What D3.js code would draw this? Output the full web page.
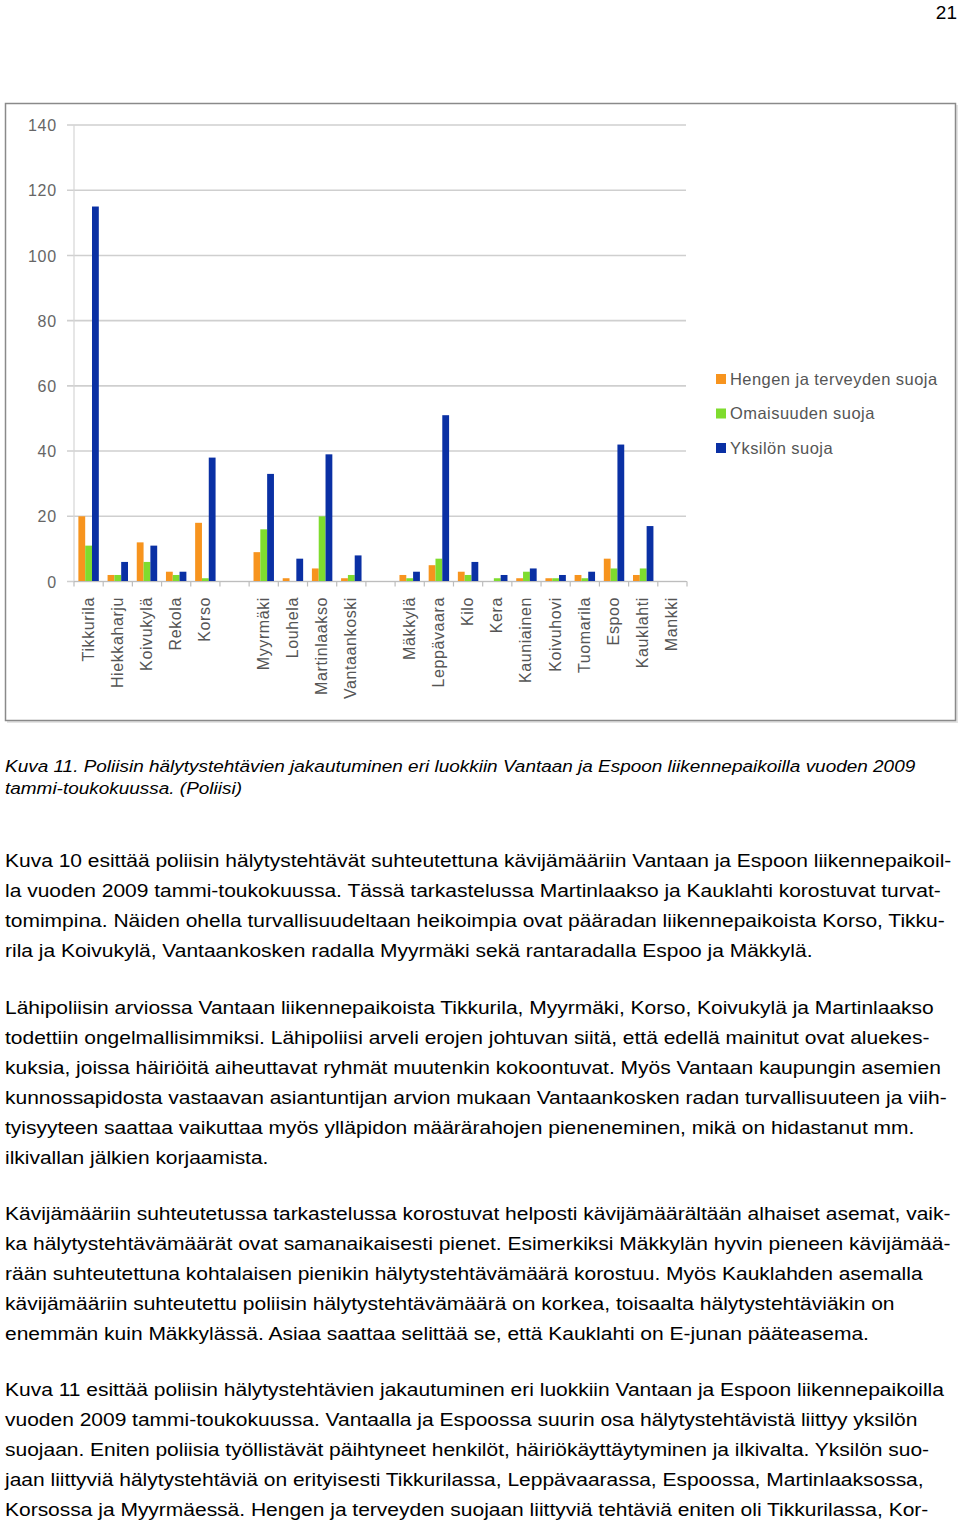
<!DOCTYPE html>
<html><head><meta charset="utf-8">
<script src="https://cdn.jsdelivr.net/npm/d3@7/dist/d3.min.js"></script>
<style>
html,body{margin:0;padding:0;background:#fff;}
svg{display:block;}
</style></head>
<body>
<svg id="page" width="960" height="1525"></svg>
<script>
// ---- data ----
const categories = ["Tikkurila","Hiekkaharju","Koivukylä","Rekola","Korso","","Myyrmäki","Louhela","Martinlaakso","Vantaankoski"," ","Mäkkylä","Leppävaara","Kilo","Kera","Kauniainen","Koivuhovi","Tuomarila","Espoo","Kauklahti","Mankki"];
const seriesNames = ["Hengen ja terveyden suoja","Omaisuuden suoja","Yksilön suoja"];
const hengen     = [20, 2, 12, 3, 18, 0, 9, 1, 4, 1, 0, 2, 5, 3, 0, 1, 1, 2, 7, 2, 0];
const omaisuuden = [11, 2, 6, 2, 1, 0, 16, 0, 20, 2, 0, 1, 7, 2, 1, 3, 1, 1, 4, 4, 0];
const yksilon    = [115, 6, 11, 3, 38, 0, 33, 7, 39, 8, 0, 3, 51, 6, 2, 4, 2, 3, 42, 17, 0];
const yTicks = [0, 20, 40, 60, 80, 100, 120, 140];
const colors = ["#f7941e", "#7fdc2e", "#0a30a4"];

const captionLines = [
 "Kuva 11. Poliisin hälytystehtävien jakautuminen eri luokkiin Vantaan ja Espoon liikennepaikoilla vuoden 2009",
 "tammi-toukokuussa. (Poliisi)"
];
const bodyParagraphs = [
 {y:860, lines:[
  "Kuva 10 esittää poliisin hälytystehtävät suhteutettuna kävijämääriin Vantaan ja Espoon liikennepaikoil-",
  "la vuoden 2009 tammi-toukokuussa. Tässä tarkastelussa Martinlaakso ja Kauklahti korostuvat turvat-",
  "tomimpina. Näiden ohella turvallisuudeltaan heikoimpia ovat pääradan liikennepaikoista Korso, Tikku-",
  "rila ja Koivukylä, Vantaankosken radalla Myyrmäki sekä rantaradalla Espoo ja Mäkkylä."]},
 {y:1007, lines:[
  "Lähipoliisin arviossa Vantaan liikennepaikoista Tikkurila, Myyrmäki, Korso, Koivukylä ja Martinlaakso",
  "todettiin ongelmallisimmiksi. Lähipoliisi arveli erojen johtuvan siitä, että edellä mainitut ovat aluekes-",
  "kuksia, joissa häiriöitä aiheuttavat ryhmät muutenkin kokoontuvat. Myös Vantaan kaupungin asemien",
  "kunnossapidosta vastaavan asiantuntijan arvion mukaan Vantaankosken radan turvallisuuteen ja viih-",
  "tyisyyteen saattaa vaikuttaa myös ylläpidon määrärahojen pieneneminen, mikä on hidastanut mm.",
  "ilkivallan jälkien korjaamista."]},
 {y:1213, lines:[
  "Kävijämääriin suhteutetussa tarkastelussa korostuvat helposti kävijämäärältään alhaiset asemat, vaik-",
  "ka hälytystehtävämäärät ovat samanaikaisesti pienet. Esimerkiksi Mäkkylän hyvin pieneen kävijämää-",
  "rään suhteutettuna kohtalaisen pienikin hälytystehtävämäärä korostuu. Myös Kauklahden asemalla",
  "kävijämääriin suhteutettu poliisin hälytystehtävämäärä on korkea, toisaalta hälytystehtäviäkin on",
  "enemmän kuin Mäkkylässä. Asiaa saattaa selittää se, että Kauklahti on E-junan pääteasema."]},
 {y:1389, lines:[
  "Kuva 11 esittää poliisin hälytystehtävien jakautuminen eri luokkiin Vantaan ja Espoon liikennepaikoilla",
  "vuoden 2009 tammi-toukokuussa. Vantaalla ja Espoossa suurin osa hälytystehtävistä liittyy yksilön",
  "suojaan. Eniten poliisia työllistävät päihtyneet henkilöt, häiriökäyttäytyminen ja ilkivalta. Yksilön suo-",
  "jaan liittyviä hälytystehtäviä on erityisesti Tikkurilassa, Leppävaarassa, Espoossa, Martinlaaksossa,",
  "Korsossa ja Myyrmäessä. Hengen ja terveyden suojaan liittyviä tehtäviä eniten oli Tikkurilassa, Kor-"]}
];

// ---- drawing ----
const svg = d3.select("#page");
const txtFont = "'Liberation Sans', Arial, sans-serif";
const stretch = 1.135;

svg.append("text").attr("x", 957).attr("y", 19).attr("text-anchor","end")
  .attr("font-family", txtFont).attr("font-size", 19).attr("fill","#000").text("21");

// chart frame
svg.append("rect").attr("x", 7).attr("y", 105).attr("width", 951).attr("height", 618)
  .attr("fill","#e4e4e4");
svg.append("rect").attr("x", 5.5).attr("y", 103.5).attr("width", 950).attr("height", 617)
  .attr("fill","#fff").attr("stroke","#8a8a8a").attr("stroke-width", 1.5);

const chartFont = "'Liberation Sans', Arial, sans-serif";
const y = d3.scaleLinear().domain([0, 140]).range([581.5, 125]);
const x0 = d3.scaleBand().domain(categories).range([74, 687]).paddingInner(0.3).paddingOuter(0.15);
const x1 = d3.scaleBand().domain([0,1,2]).range([0, x0.bandwidth()]);

// gridlines
const g = svg.append("g");
g.selectAll("line.grid").data(yTicks).join("line")
  .attr("x1", 67).attr("x2", 686)
  .attr("y1", d => y(d)).attr("y2", d => y(d))
  .attr("stroke", "#cfcfcf").attr("stroke-width", 1.6);
g.append("line").attr("x1", 74).attr("x2", 74).attr("y1", y(140)).attr("y2", y(0))
  .attr("stroke", "#d6d6d6").attr("stroke-width", 1.2);

// y tick labels
const yAxis = d3.axisLeft(y).tickValues(yTicks).tickSize(0).tickPadding(0);
const ya = svg.append("g").attr("transform", "translate(57,0)").call(yAxis);
ya.select(".domain").remove();
ya.selectAll("text").attr("font-family", chartFont).attr("font-size", 16)
  .attr("letter-spacing", "0.8px").attr("fill", "#666").attr("dy","0.35em");

// bars
const rows = categories.map((c, i) => ({c, vals:[hengen[i], omaisuuden[i], yksilon[i]]}));
const groups = svg.append("g").selectAll("g").data(rows).join("g")
  .attr("transform", d => `translate(${x0(d.c)},0)`);
groups.selectAll("rect").data(d => d.vals.map((v, k) => ({v, k}))).join("rect")
  .attr("x", d => x1(d.k)).attr("width", x1.bandwidth())
  .attr("y", d => y(d.v)).attr("height", d => y(0) - y(d.v))
  .attr("fill", d => colors[d.k]);

// x axis line & ticks
const xa = svg.append("g");
xa.append("line").attr("x1", 74).attr("x2", 687).attr("y1", y(0)).attr("y2", y(0))
  .attr("stroke", "#bdbdbd").attr("stroke-width", 1.2);
const step = x0.step();
const edges = d3.range(categories.length + 1).map(i => 74 + i * step);
xa.selectAll("line.tick").data(edges).join("line")
  .attr("x1", d => d).attr("x2", d => d).attr("y1", y(0)).attr("y2", y(0) + 5)
  .attr("stroke", "#bdbdbd").attr("stroke-width", 1.2);

// category labels
svg.append("g").selectAll("text").data(categories).join("text")
  .attr("transform", d => `translate(${x0(d) + x0.bandwidth()/2 + 5},597) rotate(-90)`)
  .attr("text-anchor", "end")
  .attr("font-family", chartFont).attr("font-size", 16).attr("letter-spacing","0.6px")
  .attr("fill", "#555").text(d => d.trim());

// legend
const leg = svg.append("g").selectAll("g").data(seriesNames).join("g")
  .attr("transform", (d, i) => `translate(716,${379 + i * 34.5})`);
leg.append("rect").attr("x", 0).attr("y", -5).attr("width", 10).attr("height", 10)
  .attr("fill", (d, i) => colors[i]);
leg.append("text").attr("x", 14).attr("y", 0).attr("dy", "0.35em")
  .attr("font-family", chartFont).attr("font-size", 16.5).attr("letter-spacing","0.45px")
  .attr("fill", "#555").text(d => d);

// caption
svg.append("g").selectAll("text").data(captionLines).join("text")
  .attr("transform", (d, i) => `translate(5,${772 + i * 22}) scale(${stretch},1)`)
  .attr("font-family", txtFont).attr("font-size", 16.7).attr("font-style", "italic")
  .attr("fill", "#000").text(d => d);

// body paragraphs
bodyParagraphs.forEach(p => {
  svg.append("g").selectAll("text").data(p.lines).join("text")
    .attr("transform", (d, i) => `translate(5,${p.y + 6.5 + i * 30}) scale(${stretch},1)`)
    .attr("font-family", txtFont).attr("font-size", 18.5)
    .attr("fill", "#000").text(d => d);
});
</script>
</body></html>
